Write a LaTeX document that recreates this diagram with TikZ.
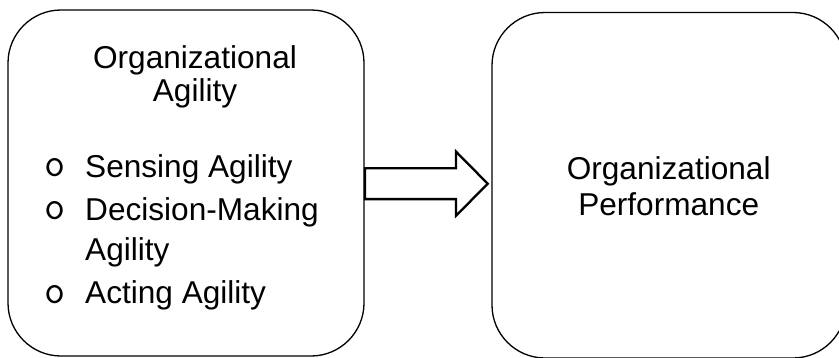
\documentclass[tikz,border=0pt]{standalone}
\usepackage{fontspec}
\setmainfont{Liberation Sans}
\begin{document}
\begin{tikzpicture}[x=1pt,y=-1pt,
  box/.style={draw, line width=1.3pt, rounded corners=53pt, inner sep=0pt},
  txt/.style={anchor=base, inner sep=0pt, font=\fontsize{31.6}{36}\selectfont},
  itemtxt/.style={txt, anchor=base west},
  bullettxt/.style={itemtxt, font=\fontsize{41}{44}\selectfont\ttfamily},
  blockarrow/.style={draw, line width=2.3pt, line join=miter, fill=white}]
\useasboundingbox (0,0) rectangle (839,357);
\clip (0,0) rectangle (839,357);
% boxes
\node[box, minimum width=356pt, minimum height=346pt] (L) at (186,183) {};
\node[box, minimum width=354pt, minimum height=345.5pt] (R) at (669,185.25) {};
% block arrow
\draw[blockarrow] (365,168.3) -- (456,168.3) -- (456,151.6) -- (487.7,183.7)
  -- (456,215.8) -- (456,199.1) -- (365,199.1) -- cycle;
% left texts
\node[txt] (t1) at (195,68.3) {Organizational};
\node[txt] (t2) at (195,101.7) {Agility};
\node[bullettxt] (b1) at (44,176.5) {o};
\node[itemtxt] (i1) at (85,177) {Sensing Agility};
\node[bullettxt] (b2) at (44,219.5) {o};
\node[itemtxt] (i2) at (85,220) {Decision-Making};
\node[itemtxt] (i2b) at (85,260) {Agility};
\node[bullettxt] (b3) at (44,303) {o};
\node[itemtxt] (i3) at (85,303.5) {Acting Agility};
% right texts
\node[txt] (r1) at (668.7,179.3) {Organizational};
\node[txt] (r2) at (668.7,215) {Performance};
\end{tikzpicture}
\end{document}
